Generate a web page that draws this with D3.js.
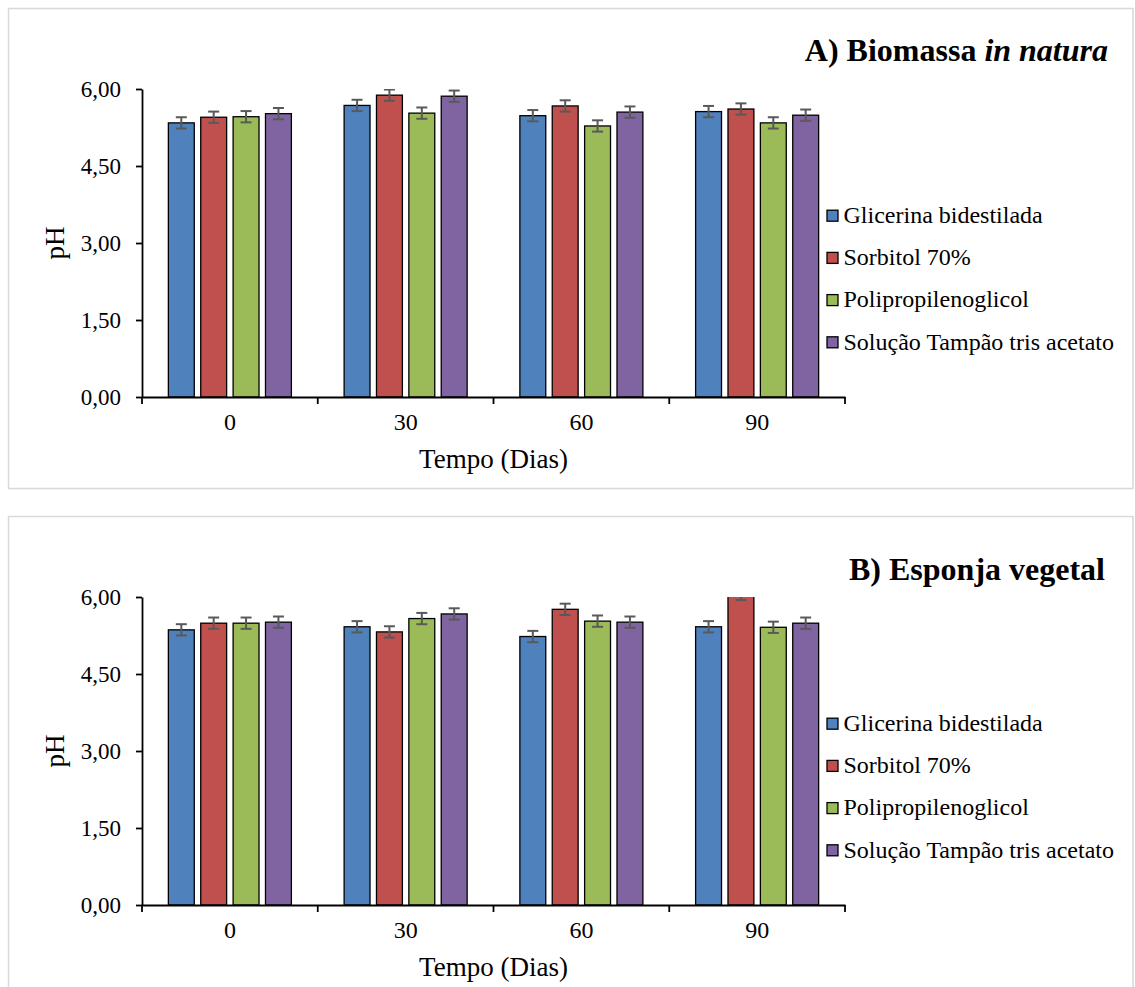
<!DOCTYPE html>
<html>
<head>
<meta charset="utf-8">
<script src="https://cdn.jsdelivr.net/npm/d3@7/dist/d3.min.js"></script>
<style>
  body { margin: 0; background: #fff; }
  svg { display: block; }
</style>
</head>
<body>
<div id="chart"></div>
<script>
// data
const categories = ["0", "30", "60", "90"];
const seriesNames = ["Glicerina bidestilada", "Sorbitol 70%", "Polipropilenoglicol", "Solução Tampão tris acetato"];
const yTicks = [0, 1.5, 3, 4.5, 6];

// A) Biomassa in natura, one array per series (days 0, 30, 60, 90)
const biomassaGlicerina = [5.34, 5.68, 5.48, 5.56];
const biomassaSorbitol  = [5.45, 5.88, 5.67, 5.61];
const biomassaPPG       = [5.46, 5.53, 5.28, 5.34];
const biomassaTampao    = [5.52, 5.86, 5.55, 5.49];
const biomassaErr       = [0.11, 0.11, 0.11, 0.11];

// B) Esponja vegetal
const esponjaGlicerina = [5.36, 5.42, 5.23, 5.42];
const esponjaSorbitol  = [5.49, 5.32, 5.76, 6.05];
const esponjaPPG       = [5.49, 5.58, 5.53, 5.41];
const esponjaTampao    = [5.51, 5.67, 5.51, 5.49];
const esponjaErr       = [0.11, 0.11, 0.11, 0.11];

const colors = ["#4F81BD", "#C0504D", "#9BBB59", "#8064A2"];
const font = "'Liberation Serif', 'Times New Roman', serif";

const W = 1135, H = 987;
const svg = d3.select("#chart").append("svg")
  .attr("width", W)
  .attr("height", H);

const plot = { left: 142, right: 845, top: 89, bottom: 397 };

const x0 = d3.scaleBand().domain(categories).range([plot.left, plot.right]).padding(0);
const innerW = x0.bandwidth() * 0.7;
const x1 = d3.scaleBand().domain(seriesNames)
  .range([(x0.bandwidth() - innerW) / 2, (x0.bandwidth() + innerW) / 2])
  .paddingInner(0.2);
const y = d3.scaleLinear().domain([0, 6]).range([plot.bottom, plot.top]);

function drawPanel(offset, id, title, seriesValues, errs, titleX, titleY, panelH) {
  const g = svg.append("g").attr("transform", `translate(0, ${offset})`);

  // light grey frame round each chart
  g.append("rect")
    .attr("x", 8.5).attr("y", 8.5)
    .attr("width", 1124.5).attr("height", panelH)
    .attr("fill", "#fff")
    .attr("stroke", "#d9d9d9")
    .attr("stroke-width", 1.5);

  g.append("clipPath").attr("id", "clip" + id)
    .append("rect")
    .attr("x", plot.left).attr("y", plot.top)
    .attr("width", plot.right - plot.left).attr("height", plot.bottom - plot.top);

  // rows: one per category, one bar per series
  const rows = categories.map((c, i) => ({
    cat: c,
    bars: seriesNames.map((s, j) => ({ s, j, v: seriesValues[j][i], e: errs[i] }))
  }));

  const bars = g.append("g").attr("clip-path", `url(#clip${id})`);
  const groups = bars.selectAll("g.cat").data(rows).enter()
    .append("g").attr("class", "cat")
    .attr("transform", d => `translate(${x0(d.cat)}, 0)`);

  groups.selectAll("rect").data(d => d.bars).enter()
    .append("rect")
    .attr("x", d => x1(d.s))
    .attr("y", d => y(d.v))
    .attr("width", x1.bandwidth())
    .attr("height", d => y(0) - y(d.v))
    .attr("fill", d => colors[d.j])
    .attr("stroke", "#000")
    .attr("stroke-width", 1.3);

  // error bars
  const eb = groups.selectAll("g.err").data(d => d.bars).enter()
    .append("g").attr("class", "err")
    .attr("stroke", "#595959")
    .attr("stroke-width", 2);
  const cx = d => x1(d.s) + x1.bandwidth() / 2;
  eb.append("line")
    .attr("x1", cx).attr("x2", cx)
    .attr("y1", d => y(d.v - d.e)).attr("y2", d => y(d.v + d.e));
  eb.append("line")
    .attr("x1", d => cx(d) - 5.5).attr("x2", d => cx(d) + 5.5)
    .attr("y1", d => y(d.v - d.e)).attr("y2", d => y(d.v - d.e));
  eb.append("line")
    .attr("x1", d => cx(d) - 5.5).attr("x2", d => cx(d) + 5.5)
    .attr("y1", d => y(d.v + d.e)).attr("y2", d => y(d.v + d.e));

  // y axis
  const yAxis = g.append("g")
    .attr("transform", `translate(${plot.left}, 0)`)
    .call(d3.axisLeft(y).tickValues(yTicks).tickSize(6).tickSizeOuter(0).tickPadding(15)
      .tickFormat(d => d.toFixed(2).replace(".", ",")));

  // x axis: labels centred, tick marks on the category borders
  const xAxis = g.append("g")
    .attr("transform", `translate(0, ${plot.bottom})`)
    .call(d3.axisBottom(x0).tickSize(0).tickSizeOuter(0).tickPadding(16));
  xAxis.selectAll(".border").data(categories.map(c => x0(c)).concat([x0.range()[1]]))
    .enter().append("line")
    .attr("x1", d => d).attr("x2", d => d)
    .attr("y1", 0).attr("y2", 7)
    .attr("stroke", "#000").attr("stroke-width", 1.8);

  [yAxis, xAxis].forEach(a => {
    a.selectAll("path, line").attr("stroke", "#000").attr("stroke-width", 1.8);
    a.selectAll("text")
      .attr("font-family", font)
      .attr("font-size", 23)
      .attr("fill", "#000");
  });
  xAxis.selectAll("text").attr("font-size", 24);

  g.append("text")
    .attr("transform", `translate(64, ${(plot.top + plot.bottom) / 2}) rotate(-90)`)
    .attr("text-anchor", "middle")
    .attr("font-family", font).attr("font-size", 27)
    .text("pH");

  g.append("text")
    .attr("x", (plot.left + plot.right) / 2).attr("y", 468)
    .attr("text-anchor", "middle")
    .attr("font-family", font).attr("font-size", 27)
    .text("Tempo (Dias)");

  // title
  const t = g.append("text")
    .attr("x", titleX).attr("y", titleY)
    .attr("text-anchor", "end")
    .attr("font-family", font).attr("font-size", 32)
    .attr("font-weight", "bold");
  title.forEach(part => {
    t.append("tspan").attr("font-style", part.italic ? "italic" : "normal").text(part.text);
  });

  // legend
  const leg = g.append("g").selectAll("g").data(seriesNames).enter()
    .append("g")
    .attr("transform", (d, i) => `translate(827, ${215.7 + i * 42.2})`);
  leg.append("rect")
    .attr("x", 0).attr("y", -5.5)
    .attr("width", 11).attr("height", 11)
    .attr("fill", (d, i) => colors[i])
    .attr("stroke", "#000").attr("stroke-width", 1.3);
  leg.append("text")
    .attr("x", 16.5).attr("dy", "0.3em")
    .attr("font-family", font).attr("font-size", 24)
    .text(d => d);
}

drawPanel(0, "A", [{ text: "A) Biomassa " }, { text: "in natura", italic: true }],
  [biomassaGlicerina, biomassaSorbitol, biomassaPPG, biomassaTampao], biomassaErr, 1108, 61, 480);
drawPanel(508, "B", [{ text: "B) Esponja vegetal" }],
  [esponjaGlicerina, esponjaSorbitol, esponjaPPG, esponjaTampao], esponjaErr, 1105, 72, 600);
</script>
</body>
</html>
